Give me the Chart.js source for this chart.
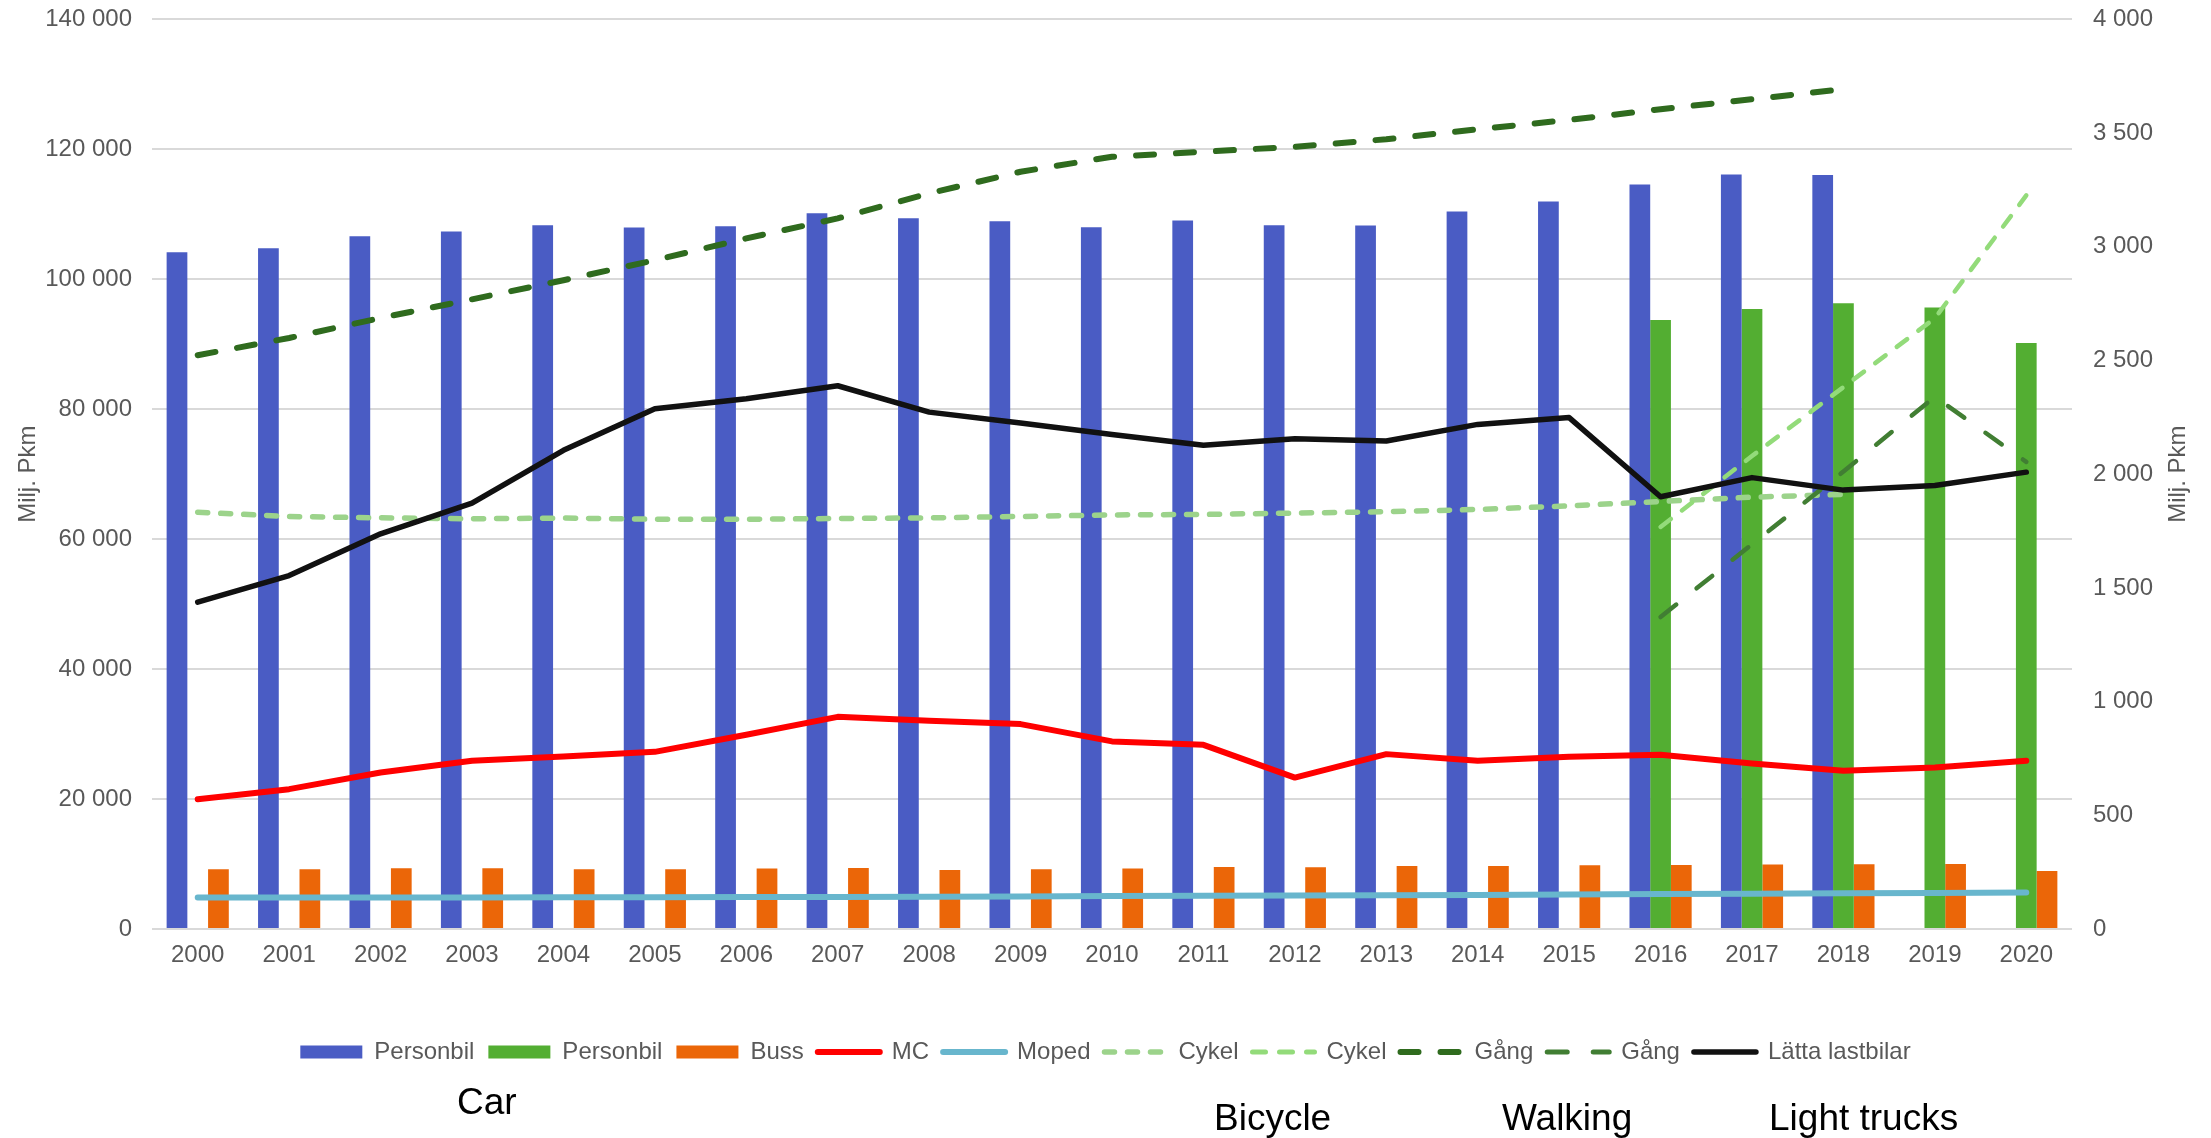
<!DOCTYPE html>
<html>
<head>
<meta charset="utf-8">
<script src="https://cdn.jsdelivr.net/npm/chart.js@4.4.1/dist/chart.umd.min.js"></script>
<style>
  html, body { margin: 0; padding: 0; background: #ffffff; }
  #wrap { position: relative; width: 2211px; height: 1138px; overflow: hidden; }
  #c { position: absolute; left: 0; top: 0; }
  .note { position: absolute; font-family: 'Liberation Sans', Arial, sans-serif; font-size: 37px; line-height: 37px; color: #000; white-space: nowrap; }
</style>
</head>
<body>
<div id="wrap">
  <canvas id="c" width="2211" height="1138"></canvas>
  <div class="note" style="left:457px; top:1083px;">Car</div>
  <div class="note" style="left:1214px; top:1099px;">Bicycle</div>
  <div class="note" style="left:1502px; top:1099px;">Walking</div>
  <div class="note" style="left:1769px; top:1099px;">Light trucks</div>
</div>
<script>
// ---- Data ----
const years = ['2000','2001','2002','2003','2004','2005','2006','2007','2008','2009','2010',
               '2011','2012','2013','2014','2015','2016','2017','2018','2019','2020'];

// Left axis (Milj. Pkm)
const personbilOld = [104170,104790,106640,107360,108330,107980,108180,110180,109410,108950,108020,
                      109060,108330,108280,110440,111980,114600,116140,116040,null,null];
const personbilNew = [null,null,null,null,null,null,null,null,null,null,null,
                      null,null,null,null,null,93740,95430,96310,95650,90190];
const buss = [9200,9200,9350,9350,9200,9200,9300,9400,9090,9200,9300,
              9550,9500,9710,9710,9810,9860,9910,9960,10020,8940];

// Right axis (Milj. Pkm)
const mc = [571,615,688,740,759,779,854,933,916,901,825,
            810,666,769,740,757,766,728,696,710,740];
const moped = [138,138,139,139,140,140,141,141,142,143,145,
               146,147,148,150,152,154,155,157,158,160];
const cykelOld = [1833,1814,1808,1804,1807,1802,1802,1805,1808,1814,1821,
                  1823,1829,1835,1845,1861,1880,1899,1911,null,null];
const cykelNew = [null,null,null,null,null,null,null,null,null,null,null,
                  null,null,null,null,null,1768,2080,2383,2686,3226];
const gangOld = [2523,2599,2687,2769,2853,2941,3037,3125,3235,3330,3396,
                 3418,3440,3473,3517,3558,3605,3649,3693,null,null];
const gangNew = [null,null,null,null,null,null,null,null,null,null,null,
                 null,null,null,null,null,1372,1692,2012,2341,2054];
const lattaLastbilar = [1437,1554,1738,1873,2105,2288,2332,2389,2273,2225,2175,
                        2127,2156,2146,2219,2249,1901,1985,1930,1950,2009];

const leftTicks = {min: 0, max: 140000, step: 20000};
const rightTicks = {min: 0, max: 4000, step: 500};
const axisTitle = 'Milj. Pkm';

// ---- Chart ----
const FONT = "'Liberation Sans', Arial, sans-serif";
Chart.defaults.font.family = FONT;
Chart.defaults.color = '#595959';

const fmt = v => String(v).replace(/\B(?=(\d{3})+(?!\d))/g, ' ');

function lineDs(label, data, color, width, dash, order) {
  return {type: 'line', label, data, yAxisID: 'y1', borderColor: color, backgroundColor: color,
          borderWidth: width, borderDash: dash, borderCapStyle: 'round',
          borderJoinStyle: 'round', pointRadius: 0, pointHoverRadius: 0, tension: 0,
          spanGaps: false, fill: false, order};
}
function barDs(label, data, color) {
  return {type: 'bar', label, data, yAxisID: 'y', backgroundColor: color, borderWidth: 0,
          categoryPercentage: 0.68, barPercentage: 1.0, order: 100};
}

const datasets = [
  barDs('Personbil', personbilOld, '#4A5CC4'),
  barDs('Personbil', personbilNew, '#53AE32'),
  barDs('Buss', buss, '#EB6608'),
  lineDs('MC', mc, '#FF0000', 6, [], 10),
  lineDs('Moped', moped, '#68B6CD', 6, [], 9),
  lineDs('Cykel', cykelOld, '#9CD38B', 5.5, [10, 13], 8),
  lineDs('Cykel', cykelNew, '#93DB7A', 4.5, [13, 14], 7),
  lineDs('Gång', gangOld, '#2F6B1E', 6, [18, 22], 6),
  lineDs('Gång', gangNew, '#417E33', 4.5, [20, 26], 5),
  lineDs('Lätta lastbilar', lattaLastbilar, '#111111', 5.5, [], 4)
];

const rightTitlePlugin = {
  id: 'rightTitle',
  afterDraw(chart) {
    const {ctx, chartArea} = chart;
    ctx.save();
    ctx.translate(2178, (chartArea.top + chartArea.bottom) / 2);
    ctx.rotate(-Math.PI / 2);
    ctx.font = '24px ' + FONT;
    ctx.fillStyle = '#595959';
    ctx.textAlign = 'center';
    ctx.textBaseline = 'middle';
    ctx.fillText(axisTitle, 0, 0);
    ctx.restore();
  }
};

new Chart(document.getElementById('c'), {
  data: {labels: years, datasets},
  options: {
    responsive: false,
    animation: false,
    layout: {padding: {top: 5, bottom: 64, left: 0, right: 0}},
    plugins: {
      tooltip: {enabled: false},
      legend: {
        position: 'bottom',
        labels: {
          usePointStyle: true,
          pointStyleWidth: 62,
          boxHeight: 13,
          padding: 14,
          color: '#595959',
          font: {size: 24, family: FONT},
          generateLabels(chart) {
            return chart.data.datasets.map((ds, i) => {
              const isBar = ds.type === 'bar';
              return {
                text: ds.label,
                datasetIndex: i,
                hidden: !chart.isDatasetVisible(i),
                fillStyle: isBar ? ds.backgroundColor : 'rgba(0,0,0,0)',
                strokeStyle: isBar ? ds.backgroundColor : ds.borderColor,
                lineWidth: isBar ? 0 : Math.max(5, ds.borderWidth),
                lineDash: isBar ? [] : ds.borderDash,
                lineCap: isBar ? 'butt' : 'round',
                pointStyle: isBar ? 'rect' : 'line',
                fontColor: '#595959'
              };
            });
          }
        }
      }
    },
    scales: {
      x: {
        type: 'category',
        offset: true,
        grid: {display: false, drawTicks: false},
        border: {display: false},
        ticks: {padding: 12, maxRotation: 0, autoSkip: false, font: {size: 24}, color: '#595959'},
        afterFit(s) { s.height = 97; }
      },
      y: {
        position: 'left',
        min: leftTicks.min, max: leftTicks.max,
        ticks: {stepSize: leftTicks.step, padding: 5, font: {size: 24}, color: '#595959', callback: v => fmt(v)},
        grid: {color: '#D9D9D9', lineWidth: 2, drawTicks: true, tickLength: 15, tickColor: 'rgba(0,0,0,0)'},
        border: {display: false},
        title: {display: true, text: axisTitle, font: {size: 24}, color: '#595959', padding: {top: 14, bottom: 0}},
        afterFit(s) { s.width = 152; }
      },
      y1: {
        position: 'right',
        min: rightTicks.min, max: rightTicks.max,
        ticks: {stepSize: rightTicks.step, padding: 5, font: {size: 24}, color: '#595959', callback: v => fmt(v)},
        grid: {display: false, drawOnChartArea: false, drawTicks: true, tickLength: 16, tickColor: 'rgba(0,0,0,0)'},
        border: {display: false},
        afterFit(s) { s.width = 139; }
      }
    }
  },
  plugins: [rightTitlePlugin]
});
</script>
</body>
</html>
